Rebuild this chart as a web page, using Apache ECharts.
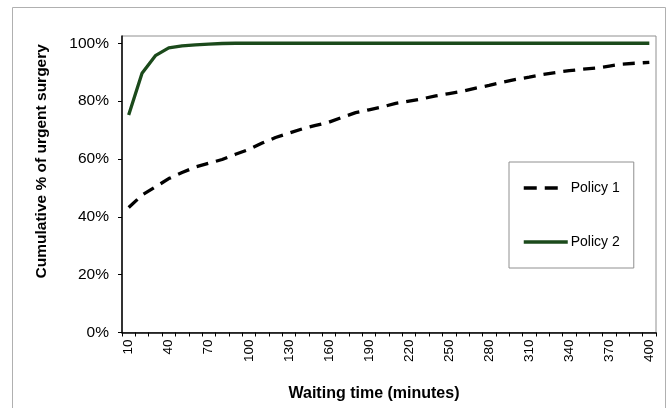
<!DOCTYPE html>
<html>
<head>
<meta charset="utf-8">
<script src="https://cdn.jsdelivr.net/npm/echarts@6/dist/echarts.min.js"></script>
<style>
html,body{margin:0;padding:0;background:#fff;}
#chart{width:667px;height:408px;}
</style>
</head>
<body>
<div id="chart"></div>
<script>
// Waiting time categories (minutes)
const categories = [10,20,30,40,50,60,70,80,90,100,110,120,130,140,150,160,170,180,190,200,
  210,220,230,240,250,260,270,280,290,300,310,320,330,340,350,360,370,380,390,400].map(String);
// Cumulative % of urgent surgery
const policy1 = [43.2,47.5,50.3,53.2,55.3,57.2,58.5,59.8,61.6,63.3,65.5,67.4,68.9,70.4,71.6,72.7,74.4,76.0,77.0,78.0,
  79.2,80.0,80.8,81.8,82.6,83.4,84.5,85.4,86.5,87.5,88.3,89.2,89.9,90.5,91.0,91.4,92.1,92.8,93.1,93.4];
const policy2 = [75.2,89.6,95.7,98.4,99.1,99.4,99.7,99.9,100,100,100,100,100,100,100,100,100,100,100,100,
  100,100,100,100,100,100,100,100,100,100,100,100,100,100,100,100,100,100,100,100];
const yTicks = [0,20,40,60,80,100];
const seriesNames = ['Policy 1','Policy 2'];

const chart = echarts.init(document.getElementById('chart'), null, {renderer:'canvas'});
const font = 'Liberation Sans, Arial, sans-serif';
chart.setOption({
  animation:false,
  backgroundColor:'#fff',
  textStyle:{fontFamily:font},
  graphic:[{type:'rect',shape:{x:12.5,y:7.5,width:653,height:410},style:{fill:null,stroke:'#b0b0b0',lineWidth:1},silent:true,z:-1}],
  grid:{left:122,right:11,top:36,bottom:75.5,show:true,borderColor:'#909090',borderWidth:1,backgroundColor:'#fff'},
  legend:{
    orient:'vertical',left:509,top:162,
    backgroundColor:'#fff',borderColor:'#909090',borderWidth:1,
    padding:[19,14,19,13],itemGap:40,itemWidth:44,itemHeight:14,
    itemStyle:{opacity:0},
    lineStyle:{width:3.5},
    textStyle:{fontSize:14,color:'#000',fontFamily:font,padding:[0,0,0,-2]},
    data:[{name:seriesNames[0],lineStyle:{type:[13,8,13,40]}},seriesNames[1]]
  },
  xAxis:{
    type:'category',data:categories,boundaryGap:true,
    name:'Waiting time (minutes)',nameLocation:'middle',nameGap:53,
    nameTextStyle:{fontSize:16,fontWeight:'bold',color:'#000',fontFamily:font,padding:[0,30,0,0]},
    axisLine:{lineStyle:{color:'#000',width:1.5}},
    axisTick:{show:true,interval:0,length:4,lineStyle:{color:'#000'}},
    axisLabel:{interval:2,rotate:90,fontSize:13.5,color:'#000',margin:7,fontFamily:font}
  },
  yAxis:{
    type:'value',min:0,max:102.5,
    name:'Cumulative % of urgent surgery',nameLocation:'middle',nameGap:72,nameRotate:90,
    nameTextStyle:{fontSize:15.5,fontWeight:'bold',color:'#000',fontFamily:font,padding:[0,0,0,46]},
    axisLine:{show:true,lineStyle:{color:'#000',width:1.5}},
    axisTick:{show:true,length:4,lineStyle:{color:'#000'},customValues:yTicks},
    axisLabel:{fontSize:15.5,color:'#000',margin:13,formatter:'{value}%',customValues:yTicks,fontFamily:font},
    splitLine:{show:false}
  },
  series:[
    {name:seriesNames[0],type:'line',data:policy1,symbol:'none',
     lineStyle:{color:'#000',width:3.3,type:[12,8]},itemStyle:{color:'#000'}},
    {name:seriesNames[1],type:'line',data:policy2,symbol:'none',
     lineStyle:{color:'#1b4a1b',width:3.3},itemStyle:{color:'#1b4a1b'}}
  ]
});
</script>
</body>
</html>
